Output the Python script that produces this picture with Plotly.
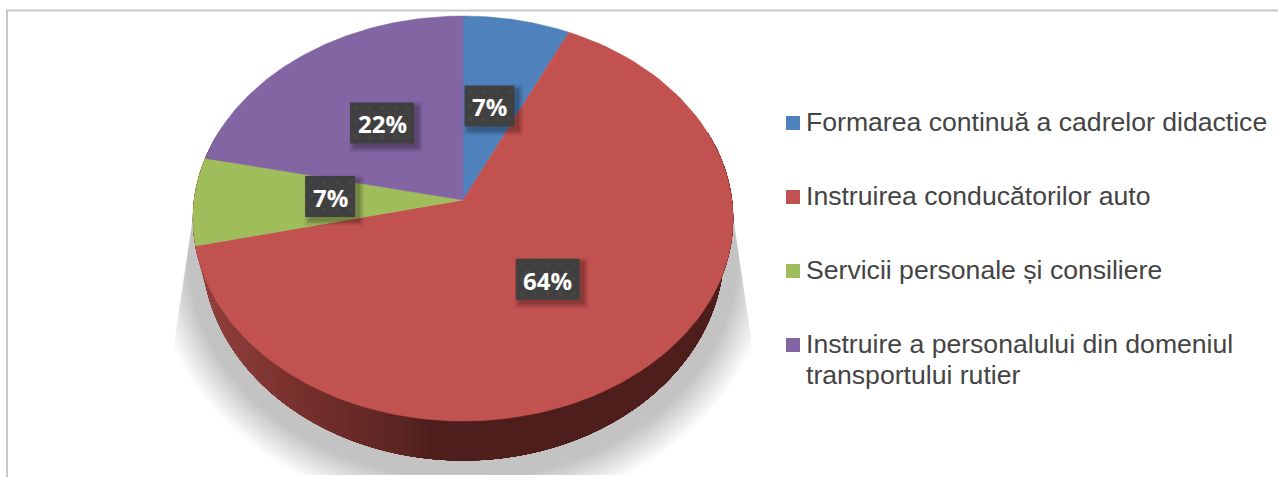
import numpy as np
import plotly.graph_objects as go

# ---- data
categories = ["Formarea continuă a cadrelor didactice", "Instruirea conducătorilor auto",
              "Servicii personale și consiliere", "Instruire a personalului din domeniul<br>transportului rutier"]
values = [7.0, 64.4, 7.0, 21.6]
labels = ["7%", "64%", "7%", "22%"]
colors = ["#4f81bd", "#c25250", "#a0bd5c", "#8365a3"]

# ---- pie geometry (pixel axes, y down)
CX = 463; CY = 218.5; RX = 269; RY = 202.5; APEX_Y = 200
K = (CY - APEX_Y) / RY          # perspective strength
BCY = 250; BRX = 260; BRY = 210.5
label_dy = [-2, 0, -4, -3]


def project(theta, r=1.0, rx=RX, ry=RY, cy=CY):
    """Tilted-circle projection: theta clockwise from 12 o'clock."""
    s, c = np.sin(theta) * r, np.cos(theta) * r
    w = 1 + K * c
    return CX + rx * s / w, cy - (ry * c + K * ry) / w


fractions = np.array(values) / sum(values)
edges = np.concatenate([[0], np.cumsum(fractions)]) * 2 * np.pi
fig = go.Figure()


def poly(x, y, color, width=0):
    fig.add_trace(go.Scatter(x=list(x), y=list(y), mode="lines", fill="toself", fillcolor=color,
                             line=dict(color=color, width=width), hoverinfo="skip", showlegend=False))


# ---- soft shadow: stacked translucent rings under the wall
t = np.linspace(0, 2 * np.pi, 361)
for d in np.linspace(50, 16, 15):
    sx = CX + (BRX + d) * np.sin(t)
    sy = np.clip(BCY + 4 - (BRY + d) * np.cos(t), 215, 475)
    lim = 193 - (sy - 215) * 17 / 115
    sx = np.clip(sx, lim, 2 * CX - lim)
    poly(sx, sy, "rgba(0,0,0,0.0155)")

# ---- side wall: overlapping pieces, painted from the light left end towards the dark right end
stops_x = [197, 300, 400, 430, 740]
stops_r = [0x92, 0x76, 0x5a, 0x4d, 0x4d]
stops_g = [0x40, 0x30, 0x25, 0x1e, 0x1e]
stops_b = [0x3d, 0x2d, 0x22, 0x1c, 0x1c]
start = np.radians(70)
for end in np.radians(np.arange(292, 178, -1.5)):
    seg = np.linspace(start, end, 80)
    x1, y1 = project(seg)
    x2, y2 = project(seg[::-1], rx=BRX, ry=BRY, cy=BCY)
    xm = x1[-1]
    col = "rgb(%d,%d,%d)" % (np.interp(xm, stops_x, stops_r), np.interp(xm, stops_x, stops_g),
                             np.interp(xm, stops_x, stops_b))
    poly(np.r_[x1, x2], np.r_[y1, y2], col, 0)

# ---- top face slices
for i, col in enumerate(colors):
    arc = np.linspace(edges[i], edges[i + 1], 120)
    px, py = project(arc)
    ax, ay = project(np.array([0.0]), r=0.0)
    poly(np.r_[ax, px, ax], np.r_[ay, py, ay], col, 0.5)

# ---- data labels
mids = (edges[:-1] + edges[1:]) / 2
lx, ly = project(mids, r=0.49)
box_w = [50, 64, 50, 64]
shapes = [dict(type="rect", xref="x", yref="y", x0=7, x1=1290, y0=10.5, y1=490,
               line=dict(color="#c8c8c8", width=2), fillcolor="rgba(0,0,0,0)", layer="below")]
annotations = []
for cx_, cy_, dy_, w, txt in zip(lx - 1, ly, label_dy, box_w, labels):
    cy_ = cy_ + dy_
    h = 41
    for grow, alpha in [(5, 0.05), (3.5, 0.07), (2, 0.09), (0.5, 0.11)]:
        shapes.append(dict(type="rect", xref="x", yref="y", x0=cx_ - w / 2 + 4 - grow, x1=cx_ + w / 2 + 4 + grow,
                           y0=cy_ - h / 2 + 4 - grow, y1=cy_ + h / 2 + 4 + grow,
                           fillcolor="rgba(0,0,0,%g)" % alpha, line=dict(width=0), layer="above"))
    shapes.append(dict(type="rect", xref="x", yref="y", x0=cx_ - w / 2, x1=cx_ + w / 2,
                       y0=cy_ - h / 2, y1=cy_ + h / 2, fillcolor="#404040", line=dict(width=0), layer="above"))
    # faint dotted texture of the label box
    for row, ry_ in enumerate(np.arange(cy_ - h / 2 + 6, cy_ + h / 2 - 3, 7)):
        for rx_ in np.arange(cx_ - w / 2 + 6 + (row % 2) * 6.5, cx_ + w / 2 - 3, 13):
            shapes.append(dict(type="circle", xref="x", yref="y", x0=rx_ - 2.2, x1=rx_ + 2.2,
                               y0=ry_ - 2.2, y1=ry_ + 2.2, fillcolor="rgba(255,255,255,0.035)",
                               line=dict(width=0), layer="above"))
    annotations.append(dict(x=cx_, y=cy_ + 1, xref="x", yref="y", text="<b>%s</b>" % txt, showarrow=False,
                            font=dict(family="Open Sans", size=24, color="#ffffff")))

# ---- legend
leg_x = 793; text_x = 804
leg_y = [123, 197, 271, 345]
fig.add_trace(go.Scatter(x=[leg_x] * 4, y=leg_y, mode="markers", hoverinfo="skip", showlegend=False,
                         marker=dict(symbol="square", size=14, color=colors)))
for y_, cat in zip(leg_y, categories):
    for j, line in enumerate(cat.split("<br>")):
        annotations.append(dict(x=text_x, y=y_ - 1 + j * 31, xref="x", yref="y", text=line, showarrow=False,
                                xanchor="left", yanchor="middle",
                                font=dict(family="Liberation Sans", size=26.6, color="#444444")))

fig.update_layout(width=1278, height=477, margin=dict(l=0, r=0, t=0, b=0), showlegend=False,
                  paper_bgcolor="#ffffff", plot_bgcolor="#ffffff", shapes=shapes, annotations=annotations,
                  xaxis=dict(range=[0, 1278], visible=False, fixedrange=True),
                  yaxis=dict(range=[477, 0], visible=False, fixedrange=True))
fig.write_html("out.html", config=dict(displayModeBar=False),
               post_script="document.body.style.margin='0';document.body.style.overflow='hidden';")
